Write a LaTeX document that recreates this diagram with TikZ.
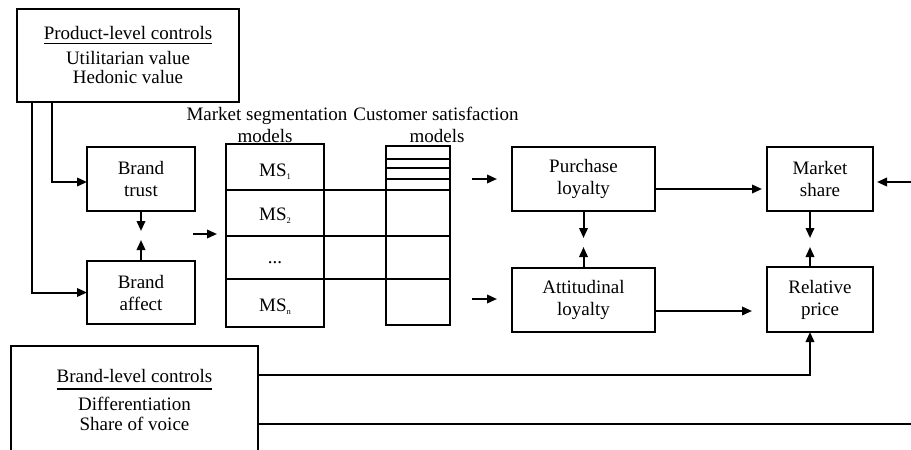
\documentclass[tikz,border=0pt]{standalone}
\usepackage{fontspec}
\setmainfont{Liberation Serif}
\usetikzlibrary{arrows.meta}
% small lowered index for the segment labels
\newcommand\segidx[1]{\raisebox{-3pt}{\fontsize{8.5}{9}\selectfont #1}}
\begin{document}
\begin{tikzpicture}[x=1pt,y=-1pt,
  every node/.style={font=\fontsize{19}{22}\selectfont, inner sep=0pt, outer sep=0pt},
  box/.style={draw, line width=2pt, align=center},
  link/.style={line width=2pt},
  arr/.style={line width=2pt, -{Triangle[length=10pt,width=8.5pt]}},
  lbl/.style={anchor=base}]
\useasboundingbox (0,0) rectangle (911,450);
\fill[white] (0,0) rectangle (911,450);
\clip (0,0) rectangle (911,450);

% product-level controls
\node[box, minimum width=222pt, minimum height=93pt] (prod) at (128,55.5) {};
\node[lbl] (ptitle) at (128,39) {Product-level controls};
\draw[line width=1.8pt] ([yshift=-4.5pt]ptitle.base west) -- ([yshift=-4.5pt]ptitle.base east);
\node[lbl] at (128,64) {Utilitarian value};
\node[lbl] at (128,83) {Hedonic value};

% brand trust / affect
\node[box, minimum width=108pt, minimum height=64pt] (trust) at (141,179) {Brand\\trust};
\node[box, minimum width=108pt, minimum height=63pt] (affect) at (141,292.5) {Brand\\affect};
\draw[arr] ([xshift=35pt]prod.south west) |- ([yshift=-3pt]trust.west);
\draw[arr] ([xshift=15pt]prod.south west) |- (affect.west);
\draw[arr] (trust.south) -- ++(0,20);
\draw[arr] (affect.north) -- ++(0,-21);

% arrow into the segmentation table
\coordinate (segin0) at (193,234);
\coordinate (segin1) at (217,234);
\draw[arr] (segin0) -- (segin1);

% segmentation and satisfaction tables
\node[lbl] at (267,120) {Market segmentation};
\node[lbl] at (265,142) {models};
\node[lbl] at (436,120) {Customer satisfaction};
\node[lbl] at (437,142) {models};
\node[box, minimum width=98pt, minimum height=183pt] (seg) at (275,235.5) {};
\node[box, minimum width=64pt, minimum height=179pt] (cs) at (418,235.5) {};
\foreach \y in {190,236,279} \draw[link] (226,\y) -- (450,\y);
\foreach \y in {159,168,179} \draw[link] (386,\y) -- (450,\y);
\node[lbl] at (275,176) {MS\segidx{1}};
\node[lbl] at (275,220) {MS\segidx{2}};
\node[lbl] at (275,263) {...};
\node[lbl] at (275,311) {MS\segidx{n}};

% loyalty boxes
\coordinate (plin0) at (472,179);
\coordinate (plin1) at (497,179);
\coordinate (alin0) at (472,299);
\coordinate (alin1) at (497,299);
\draw[arr] (plin0) -- (plin1);
\draw[arr] (alin0) -- (alin1);
\node[box, minimum width=143pt, minimum height=64pt] (pl) at (583.5,179) {Purchase\\loyalty};
\node[box, minimum width=143pt, minimum height=64pt] (al) at (583.5,300) {Attitudinal\\loyalty};
\draw[arr] (pl.south) -- ++(0,27);
\draw[arr] (al.north) -- ++(0,-21);

% outcomes
\node[box, minimum width=106pt, minimum height=64pt] (mshare) at (820,179) {Market\\share};
\node[box, minimum width=106pt, minimum height=65pt] (rp) at (820,299.5) {Relative\\price};
\draw[arr] ([yshift=-10pt]pl.east) -- ([xshift=-5pt,yshift=-10pt]mshare.west);
\draw[arr] ([yshift=-11pt]al.east) -- ([xshift=-15pt,yshift=-11.5pt]rp.west);
\draw[arr] ([xshift=-10pt]mshare.south) -- ++(0,27);
\draw[arr] ([xshift=-10pt]rp.north) -- ++(0,-20);
\coordinate (msin) at (911,182);
\draw[arr] (msin) -- ([xshift=4pt,yshift=-3pt]mshare.east);

% brand-level controls
\node[box, minimum width=247pt, minimum height=130pt] (blc) at (134.5,411) {};
\node[lbl] (btitle) at (134.5,382) {Brand-level controls};
\draw[line width=1.8pt] ([yshift=-7pt]btitle.base west) -- ([yshift=-7pt]btitle.base east);
\node[lbl] at (134.5,410) {Differentiation};
\node[lbl] at (134.5,430) {Share of voice};
\draw[arr] ([yshift=-29pt]blc.north east) -| ([xshift=-10pt]rp.south);
\coordinate (blcout) at (911,424);
\draw[link] ([yshift=-78pt]blc.north east) -- (blcout);
\end{tikzpicture}
\end{document}
